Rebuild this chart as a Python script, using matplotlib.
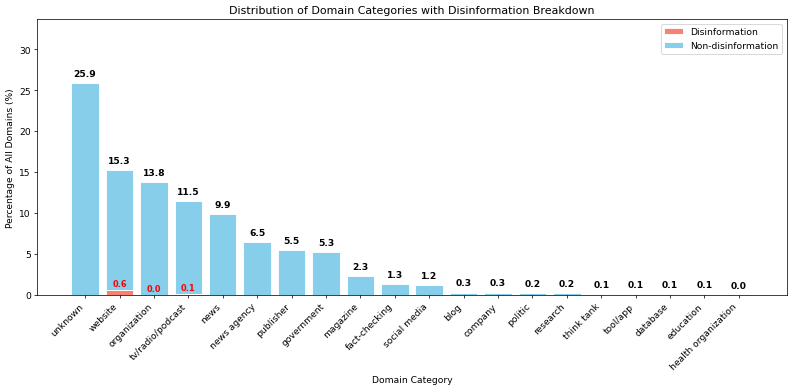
import matplotlib
matplotlib.use('Agg')
import matplotlib.pyplot as plt
import numpy as np

categories = ['unknown', 'website', 'organization', 'tv/radio/podcast', 'news', 'news agency',
              'publisher', 'government', 'magazine', 'fact-checking', 'social media', 'blog',
              'company', 'politic', 'research', 'think tank', 'tool/app', 'database',
              'education', 'health organization']
total_pct = [25.9, 15.3, 13.8, 11.5, 9.9, 6.5, 5.5, 5.3, 2.3, 1.3, 1.2, 0.3, 0.3, 0.2, 0.2,
             0.1, 0.1, 0.1, 0.1, 0.0]
disinfo_pct = [0.0, 0.6, 0.02, 0.1, 0.0, 0.0, 0.0, 0.0, 0.0, 0.0, 0.0, 0.0, 0.0, 0.0, 0.0,
               0.0, 0.0, 0.0, 0.0, 0.0]

total = np.array(total_pct)
dis = np.array(disinfo_pct)
non_dis = total - dis
x = np.arange(len(categories))

fig, ax = plt.subplots(figsize=(12, 5.93), dpi=793 / 12)

ax.bar(x, dis, color='salmon', edgecolor='white', label='Disinformation')
ax.bar(x, non_dis, bottom=dis, color='skyblue', edgecolor='white', label='Non-disinformation')

# totals on top
for i, t in enumerate(total):
    ax.text(x[i], t + 0.6, f'{t:.1f}', ha='center', va='bottom', fontweight='bold', fontsize=10)

# disinformation share where present
for i, d in enumerate(dis):
    if d > 0:
        ax.text(x[i], d + 0.2, f'{d:.1f}', ha='center', va='bottom', color='red',
                fontweight='bold', fontsize=9)

ax.set_ylim(0, total.max() * 1.3)
ax.set_xticks(x)
ax.set_xticklabels(categories, rotation=45, ha='right')
ax.set_xlabel('Domain Category')
ax.set_ylabel('Percentage of All Domains (%)')
ax.set_title('Distribution of Domain Categories with Disinformation Breakdown', fontsize=12)
ax.legend()

fig.subplots_adjust(left=0.047, right=0.992, top=0.949, bottom=0.245)
plt.savefig('out.png')
